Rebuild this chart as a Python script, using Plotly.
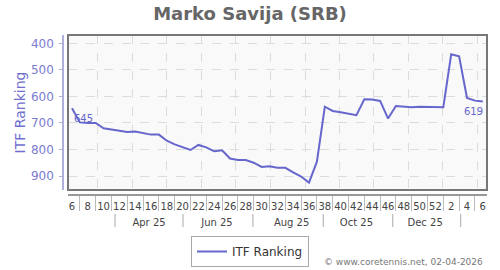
import plotly.graph_objects as go

# ---- data ----
ranking = [645, 698, 700, 700, 720, 724, 728, 734, 732, 738,
           744, 744, 767, 781, 793, 802, 783, 792, 807, 803,
           834, 840, 840, 850, 866, 863, 869, 869, 886, 902,
           925, 846, 639, 655, 660, 666, 671, 611, 612, 617,
           683, 636, 638, 641, 639, 639, 640, 641, 441, 449,
           606, 616, 619]
week_labels = ["6", "8", "10", "12", "14", "16", "18", "20", "22", "24",
               "26", "28", "30", "32", "34", "36", "38", "40", "42", "44",
               "46", "48", "50", "52", "2", "4", "6"]
month_labels = ["Apr 25", "Jun 25", "Aug 25", "Oct 25", "Dec 25"]
month_label_pos = [9.75, 18.35, 27.8, 36.0, 44.7]
month_sep_pos = [5.44, 14.05, 22.9, 31.8, 40.6, 49.2]
month_grid_pos = [3.2, 7.68, 11.99, 16.4, 20.7, 25.1, 29.5, 33.9, 38.2, 42.6, 46.9, 51.3]
y_ticks = [400, 500, 600, 700, 800, 900]

idx = list(range(len(ranking)))
label_idx = idx[0::2]
sep_idx = idx[1::2]

LINE = "#6666cc"
FONT = "DejaVu Sans"
XR = [-0.506, 52.53]

fig = go.Figure()
fig.add_trace(go.Scatter(x=idx, y=ranking, mode="lines", name="ITF Ranking",
                         line=dict(color=LINE, width=2), xaxis="x", yaxis="y"))
for ax in ["x2", "x3", "x4"]:
    fig.add_trace(go.Scatter(x=idx, y=ranking, mode="lines", xaxis=ax, yaxis="y",
                             line=dict(color="rgba(0,0,0,0)", width=0),
                             showlegend=False, hoverinfo="skip"))

xdom = [5 / 424, 1]
common = dict(range=XR, domain=xdom, anchor="free", position=0, zeroline=False,
              fixedrange=True, automargin=False)

shapes = [dict(type="rect", xref="x domain", yref="y domain", x0=0, x1=1, y0=0, y1=1,
               line=dict(color="#777", width=2), layer="above")]
for p in month_sep_pos:
    shapes.append(dict(type="line", xref="x", yref="paper", x0=p, x1=p,
                       y0=(195 - 214) / 160, y1=(195 - 227) / 160,
                       line=dict(color="#aaa", width=1)))

fig.update_layout(
    width=500, height=270,
    margin=dict(l=63, r=13, t=35, b=75, autoexpand=False),
    paper_bgcolor="white", plot_bgcolor="#f9f9f9",
    font=dict(family=FONT, color="#444"),
    title=dict(text="<b>Marko Savija (SRB)</b>", x=0.5, xref="container", xanchor="center",
               y=1 - 14 / 270, yref="container", yanchor="middle",
               font=dict(size=18, color="#666", family=FONT)),
    xaxis=dict(**common, tickvals=month_grid_pos, showticklabels=False, ticks="",
               showgrid=True, gridcolor="#dcdcdc", griddash="dash", gridwidth=1,
               showline=True, linecolor="#999", linewidth=2),
    xaxis2=dict(**common, overlaying="x", tickvals=sep_idx, ticktext=[""] * len(sep_idx),
                ticks="outside", ticklen=15, tickcolor="#bbb", tickwidth=1,
                showgrid=False, showline=False),
    xaxis3=dict(**common, overlaying="x", tickvals=label_idx, ticktext=week_labels,
                ticks="", showgrid=False, showline=False, ticklabelstandoff=4,
                tickfont=dict(size=10, color="#444", family=FONT)),
    xaxis4=dict(**common, overlaying="x",
                tickvals=month_label_pos, ticktext=month_labels,
                ticks="", showgrid=False, showline=False, ticklabelstandoff=20,
                tickfont=dict(size=10, color="#444", family=FONT)),
    yaxis=dict(range=[952.7, 368.7], domain=[5 / 160, 1], anchor="free", position=0,
               tickvals=y_ticks, ticks="outside", ticklen=3, tickcolor="#b0b0dd",
               showgrid=True, gridcolor="#dcdcdc",
               griddash="dash", zeroline=False, showline=True, linecolor="#b0b0dd",
               linewidth=1.5, ticklabelstandoff=3, fixedrange=True, automargin=False,
               tickfont=dict(size=12, color="#7b7bd0", family=FONT),
               title=dict(text="ITF Ranking", standoff=1,
                          font=dict(size=14, color="#6f6fd0", family=FONT))),
    showlegend=True,
    legend=dict(orientation="h", x=0.5, xref="container", xanchor="center",
                y=1 - 236 / 270, yref="container", yanchor="top",
                bordercolor="#aaa", borderwidth=1, bgcolor="white",
                font=dict(size=12, color="#333", family=FONT)),
    shapes=shapes,
    annotations=[
        dict(x=idx[0], y=ranking[0], xref="x", yref="y", text=str(ranking[0]),
             showarrow=False, xanchor="left", yanchor="top", xshift=0, yshift=-3,
             font=dict(size=10, color=LINE, family=FONT)),
        dict(x=idx[-1], y=ranking[-1], xref="x", yref="y", text=str(ranking[-1]),
             showarrow=False, xanchor="right", yanchor="top", xshift=2, yshift=-3,
             font=dict(size=10, color=LINE, family=FONT)),
        dict(x=0.995, y=(195 - 262) / 160, xref="paper", yref="paper",
             text="© www.coretennis.net, 02-04-2026", showarrow=False,
             xanchor="right", yanchor="middle",
             font=dict(size=9, color="#777", family=FONT)),
    ],
)

fig.write_html("out.html")
